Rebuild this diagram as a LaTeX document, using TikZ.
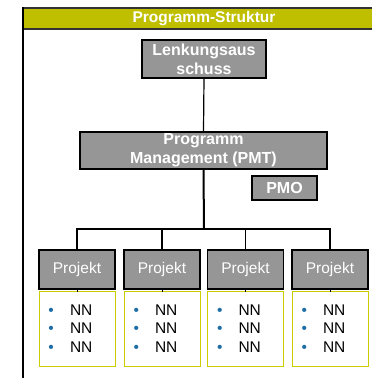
\documentclass[tikz,border=0pt]{standalone}
\usepackage{fontspec}
\setmainfont{Liberation Sans}
\definecolor{headolive}{RGB}{191,191,0}
\definecolor{boxgray}{RGB}{150,150,150}
\definecolor{listframe}{RGB}{204,204,0}
\definecolor{bulletblue}{RGB}{30,110,165}
\newcommand\listbullet{\makebox[21.5pt][l]{\textcolor{bulletblue}{•}}}
\begin{document}
\begin{tikzpicture}[x=1pt,y=-1pt,
  unitbox/.style={draw=black, line width=1.2pt, fill=boxgray, text=white,
    font=\bfseries\fontsize{16}{19}\selectfont, align=center, inner sep=0pt},
  projbox/.style={draw=black, line width=1.2pt, fill=boxgray, text=white,
    font=\fontsize{15.5}{18}\selectfont, inner sep=0pt,
    minimum width=76pt, minimum height=39pt},
  listbox/.style={draw=listframe, line width=1pt, fill=white,
    font=\fontsize{15.5}{18.5}\selectfont, align=left, text width=57pt,
    inner xsep=0pt, inner ysep=0pt, minimum width=76pt, minimum height=75pt},
  link/.style={line width=1.2pt},
  trunk/.style={line width=2pt}]
\useasboundingbox (0,0) rectangle (372,378);
% frame with title band
\fill[headolive] (23,8) rectangle (395,29);
\draw[line width=1.5pt, black!80] (395,8) -- (23,8);
\draw[line width=1.2pt, black!80] (23,29) -- (395,29);
\draw[line width=1.5pt] (23,7.25) -- (23,400);
\node[text=white, font=\bfseries\fontsize{15.5}{18}\selectfont] (title) at (204,18.5) {Programm-Struktur};
% hierarchy
\node[unitbox, minimum width=124pt, minimum height=38pt] (lenk) at (204,59) {Lenkungsaus\\schuss};
\node[unitbox, minimum width=247pt, minimum height=37pt] (pmt) at (203.5,150.5) {Programm\\Management (PMT)};
\node[unitbox, minimum width=65pt, minimum height=24pt] (pmo) at (284.5,188) {PMO};
\foreach \i/\x in {1/77,2/162,3/245.5,4/330}{
  \node[projbox] (p\i) at (\x,269.5) {Projekt};
  \node[listbox] (n\i) at (\x,328.5) {\listbullet NN\\\listbullet NN\\\listbullet NN};
}
\coordinate (bus) at (204,229);
\draw[link] (lenk.south) -- (pmt.north);
\draw[trunk] (pmt.south) -- (bus);
\draw[link] (p1.north) |- (bus) -| (p4.north);
\draw[link] (p2.north) -- (p2.north |- bus);
\draw[link] (p3.north) -- (p3.north |- bus);
\foreach \i in {1,...,4}{
  \draw[line width=0.8pt] (p\i.south) -- ++(0,2);
}
\end{tikzpicture}
\end{document}
